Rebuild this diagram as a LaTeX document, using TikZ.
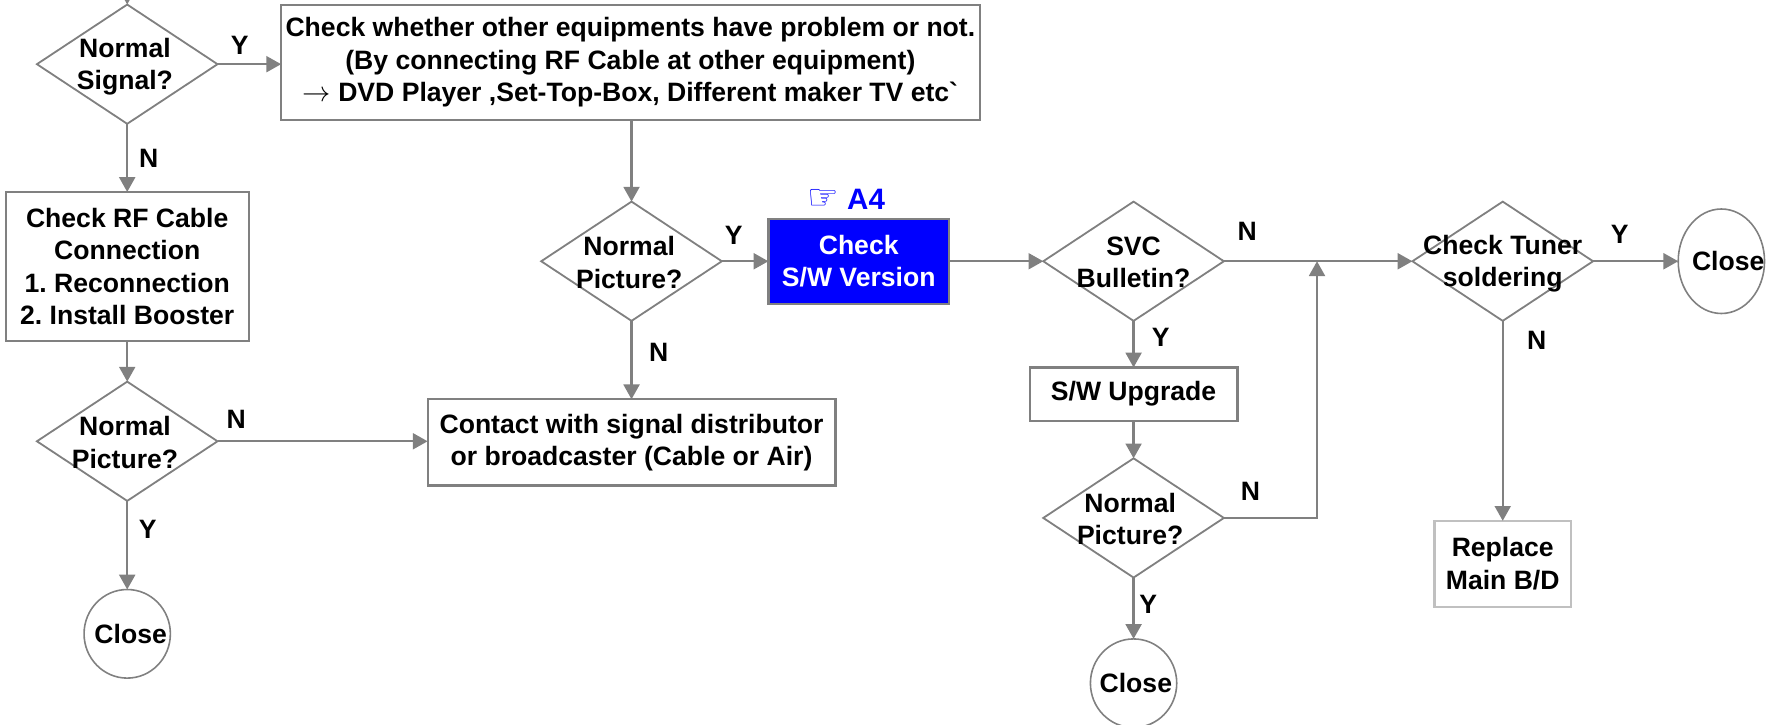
\documentclass[tikz,border=0pt]{standalone}
\usepackage{fontspec}
\setmainfont{Liberation Sans}
\newfontfamily\gravefont{Liberation Sans}
\newfontfamily\handfont{DejaVu Sans}
\usetikzlibrary{arrows.meta,positioning,shapes.geometric}
\definecolor{FlowGray}{HTML}{808080}
\definecolor{FlowLight}{HTML}{C0C0C0}
\definecolor{FlowBlue}{HTML}{0000FF}
\frenchspacing
\tikzset{
  flowtext/.style={font=\fontsize{23.4}{28.5}\selectfont\bfseries, align=center, inner sep=0pt},
  decision/.style={draw=FlowGray, line width=1.6pt, diamond, aspect=1.5, inner sep=0pt, outer sep=0pt, minimum width=159pt, minimum height=105pt},
  flowbox/.style={draw=FlowGray, line width=2pt, fill=white, flowtext, outer sep=0pt},
  closing/.style={draw=FlowGray, line width=1.4pt, ellipse, inner sep=0pt, outer sep=0pt, minimum width=76pt, minimum height=78pt},
  flow/.style={draw=FlowGray, line width=2pt, -{Triangle[length=13pt,width=14pt]}},
}
\begin{document}
\begin{tikzpicture}[x=1pt, y=1pt]
    \clip (0,0) rectangle (1568,-638);
    % left column
    \node[decision, label={[flowtext, xshift=-2pt, yshift=-2pt]center:Normal\\Signal?}] (signal) at (112,-56.5) {};
    \node[flowbox, minimum width=214pt, minimum height=131pt, below=60pt of signal] (cable) {Check RF Cable\\Connection\\1. Reconnection\\2. Install Booster};
    \node[decision, label={[flowtext, xshift=-2pt, yshift=-1pt]center:Normal\\Picture?}, below=36pt of cable] (pictureA) {};
    \node[closing, label={[flowtext, xshift=3pt]center:Close}, below=78pt of pictureA] (closeA) {};

    % middle column
    \node[flowbox, minimum width=615pt, minimum height=101pt, right=56pt of signal, yshift=1.5pt] (others) {Check whether other equipments have problem or not.\\(By connecting RF Cable at other equipment)\\$\rightarrow$ DVD Player ,Set-Top-Box, Different maker TV etc{\gravefont\char96}};
    \node[decision, label={[flowtext, xshift=-2pt, yshift=-1pt]center:Normal\\Picture?}, below=72pt of others, xshift=1pt] (pictureB) {};
    \node[flowbox, minimum width=359pt, minimum height=76pt, below=69pt of pictureB] (contact) {Contact with signal distributor\\or broadcaster (Cable or Air)};
    \node[flowbox, fill=FlowBlue, text=white, minimum width=159pt, minimum height=75pt, right=41pt of pictureB] (version) {Check\\S/W Version};
    \node[flowtext, text=FlowBlue, font=\fontsize{26}{30}\selectfont\bfseries, above=8pt of version, xshift=-11pt] (ref) {{\handfont\fontsize{31}{30}\selectfont ☞} A4};

    % right part
    \node[decision, label={[flowtext, yshift=-1pt]center:SVC\\Bulletin?}, right=83pt of version] (bulletin) {};
    \node[flowbox, minimum width=183pt, minimum height=47pt, below=41pt of bulletin] (upgrade) {S/W Upgrade};
    \node[decision, label={[flowtext, xshift=-3pt, yshift=-1pt]center:Normal\\Picture?}, below=33pt of upgrade] (pictureC) {};
    \node[closing, label={[flowtext, xshift=2pt]center:Close}, below=54pt of pictureC] (closeB) {};
    \node[decision, label={[flowtext, yshift=-2pt]center:Check Tuner\\soldering}, right=166pt of bulletin] (tuner) {};
    \node[closing, minimum height=92pt, label={[flowtext, xshift=6pt]center:Close}, right=75pt of tuner] (closeC) {};
    \node[flowbox, draw=FlowLight, minimum width=120pt, minimum height=76pt, text depth=1pt, below=176pt of tuner] (replace) {Replace\\Main B/D};

    \coordinate[above=20pt of signal.north] (entry);
    \coordinate[right=82pt of pictureC.east] (merge);

    \draw[flow] (entry) -- (signal.north);
    \draw[flow] (signal.east) -- (signal.east -| others.west);
    \draw[flow] (signal.south) -- (cable.north);
    \draw[flow] (cable.south) -- (pictureA.north);
    \draw[flow] (pictureA.east) -- (pictureA.east -| contact.west);
    \draw[flow] (pictureA.south) -- (closeA.north);
    \draw[flow] (others.south -| pictureB.north) -- (pictureB.north);
    \draw[flow] (pictureB.east) -- (version.west);
    \draw[flow] (pictureB.south) -- (contact.north);
    \draw[flow] (version.east) -- (bulletin.west);
    \draw[flow] (bulletin.east) -- (tuner.west);
    \draw[flow] (bulletin.south) -- (upgrade.north);
    \draw[flow] (upgrade.south) -- (pictureC.north);
    \draw[flow] (pictureC.south) -- (closeB.north);
    \draw[flow] (pictureC.east) -- (merge) -- (merge |- bulletin.east);
    \draw[flow] (tuner.east) -- (closeC.west);
    \draw[flow] (tuner.south) -- (replace.north);

    % branch letters
    \node[flowtext] (tagA) at (211,-40) {Y};
    \node[flowtext] (tagB) at (131,-139) {N};
    \node[flowtext] (tagC) at (208,-369) {N};
    \node[flowtext] (tagD) at (130,-466) {Y};
    \node[flowtext] (tagE) at (646,-207) {Y};
    \node[flowtext] (tagF) at (580,-310) {N};
    \node[flowtext] (tagG) at (1098,-204) {N};
    \node[flowtext] (tagH) at (1022,-297) {Y};
    \node[flowtext] (tagI) at (1101,-433) {N};
    \node[flowtext] (tagJ) at (1011,-532) {Y};
    \node[flowtext] (tagK) at (1426,-206) {Y};
    \node[flowtext] (tagL) at (1353,-300) {N};
  \end{tikzpicture}
\end{document}
